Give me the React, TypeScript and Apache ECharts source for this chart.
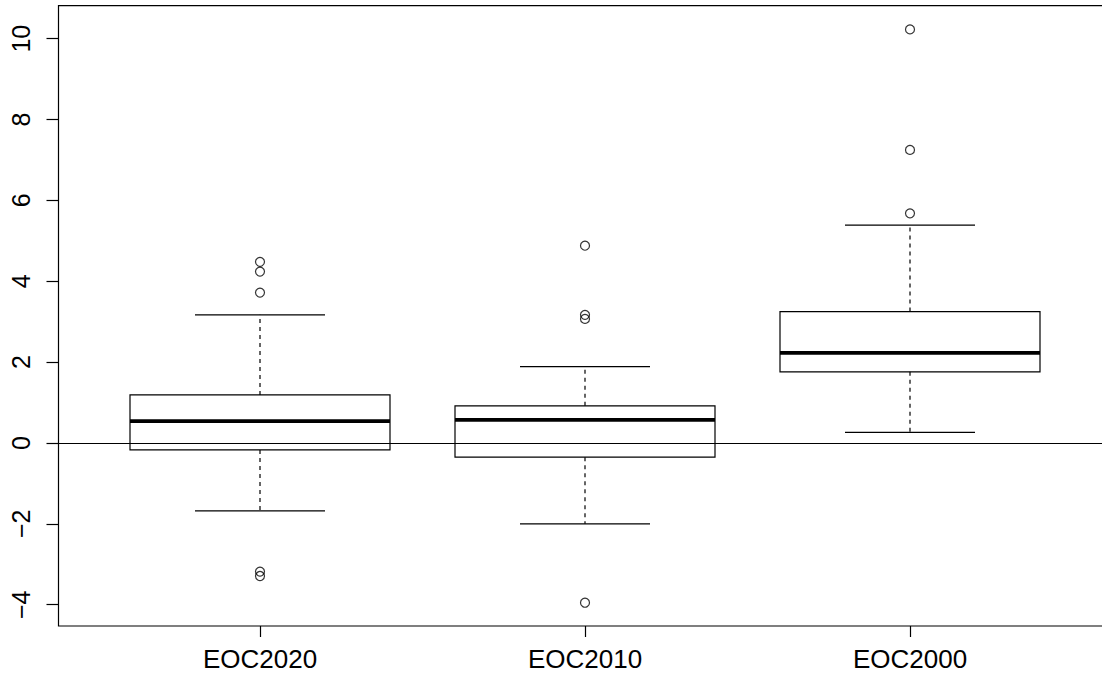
import React, { useEffect, useRef } from "react";
import * as echarts from "echarts";

// ---- data ----
const categories = ["EOC2020", "EOC2010", "EOC2000"];
const positions = [1, 2, 3];
const lowerWhisker = [-1.68, -2.0, 0.265];
const lowerQuartile = [-0.17, -0.35, 1.76];
const medians = [0.54, 0.57, 2.23];
const upperQuartile = [1.19, 0.92, 3.25];
const upperWhisker = [3.17, 1.89, 5.39];
const outliersEOC2020 = [4.48, 4.24, 3.72, -3.18, -3.29];
const outliersEOC2010 = [4.88, 3.17, 3.07, -3.95];
const outliersEOC2000 = [10.23, 7.25, 5.68];
const yTicks = [-4, -2, 0, 2, 4, 6, 8, 10];
const xRange = [0.38, 3.62];
const yRange = [-4.526, 10.816];

const outlierGroups = [outliersEOC2020, outliersEOC2010, outliersEOC2000];

const BOX_WIDTH = 0.8;
const CAP_WIDTH = 0.4;
const FONT = "'Liberation Sans', Arial, Helvetica, sans-serif";

export default function App() {
  const ref = useRef<HTMLDivElement>(null);

  useEffect(() => {
    if (!ref.current) return;
    const chart = echarts.init(ref.current, null, { renderer: "svg" });

    const boxData = positions.map((p, i) => [
      p,
      lowerWhisker[i],
      lowerQuartile[i],
      medians[i],
      upperQuartile[i],
      upperWhisker[i],
    ]);
    const outlierData: number[][] = [];
    outlierGroups.forEach((g, i) => g.forEach((v) => outlierData.push([positions[i], v])));

    const black = "#000";
    const lw = 1.2;

    chart.setOption({
      animation: false,
      backgroundColor: "#fff",
      grid: {
        left: 58.5,
        top: 5.7,
        right: -9.5,
        bottom: 53,
        show: true,
        borderColor: black,
        borderWidth: lw,
        backgroundColor: "transparent",
        containLabel: false,
        outerBoundsMode: "none",
      },
      xAxis: {
        type: "value",
        min: xRange[0],
        max: xRange[1],
        axisLine: { show: false, onZero: false },
        splitLine: { show: false },
        axisTick: {
          show: true,
          length: 11,
          customValues: positions,
          lineStyle: { color: black, width: lw },
        },
        axisLabel: {
          show: true,
          customValues: positions,
          formatter: (v: number) => categories[positions.indexOf(Math.round(v))] ?? "",
          margin: 20,
          fontSize: 26,
          fontFamily: FONT,
          color: black,
        },
      },
      yAxis: {
        type: "value",
        min: yRange[0],
        max: yRange[1],
        axisLine: { show: false, onZero: false },
        splitLine: { show: false },
        axisTick: {
          show: true,
          length: 12,
          customValues: yTicks,
          lineStyle: { color: black, width: lw },
        },
        axisLabel: {
          show: true,
          customValues: yTicks,
          rotate: 90,
          margin: 25,
          fontSize: 25,
          fontFamily: FONT,
          color: black,
          formatter: (v: number) => (v < 0 ? "\u2212" + Math.abs(v) : String(v)),
        },
      },
      series: [
        {
          type: "custom",
          coordinateSystem: "cartesian2d",
          silent: true,
          encode: { x: 0, y: [1, 2, 3, 4, 5] },
          data: boxData,
          renderItem: (params: any, api: any) => {
            const x = api.value(0);
            const lo = api.coord([x, api.value(1)]);
            const q1 = api.coord([x, api.value(2)]);
            const md = api.coord([x, api.value(3)]);
            const q3 = api.coord([x, api.value(4)]);
            const hi = api.coord([x, api.value(5)]);
            const bh = api.size([BOX_WIDTH, 0])[0] / 2;
            const ch = api.size([CAP_WIDTH, 0])[0] / 2;
            const cx = lo[0];
            const solid = { stroke: black, lineWidth: lw, fill: null };
            const dashed = { stroke: black, lineWidth: lw, lineDash: [4, 4], fill: null };
            return {
              type: "group",
              children: [
                { type: "line", shape: { x1: cx, y1: q3[1], x2: cx, y2: hi[1] }, style: dashed },
                { type: "line", shape: { x1: cx, y1: q1[1], x2: cx, y2: lo[1] }, style: dashed },
                { type: "line", shape: { x1: cx - ch, y1: hi[1], x2: cx + ch, y2: hi[1] }, style: solid },
                { type: "line", shape: { x1: cx - ch, y1: lo[1], x2: cx + ch, y2: lo[1] }, style: solid },
                {
                  type: "rect",
                  shape: { x: cx - bh, y: q3[1], width: 2 * bh, height: q1[1] - q3[1] },
                  style: { stroke: black, lineWidth: lw, fill: "transparent" },
                },
                {
                  type: "line",
                  shape: { x1: cx - bh, y1: md[1], x2: cx + bh, y2: md[1] },
                  style: { stroke: black, lineWidth: 3.8, fill: null },
                },
              ],
            };
          },
        },
        {
          type: "scatter",
          silent: true,
          data: outlierData,
          symbol: "circle",
          symbolSize: 9,
          itemStyle: { color: "transparent", borderColor: black, borderWidth: 1.2 },
          markLine: {
            silent: true,
            symbol: ["none", "none"],
            label: { show: false },
            lineStyle: { color: black, width: 1.2, type: "solid" },
            emphasis: { disabled: true },
            data: [{ yAxis: 0 }],
          },
        },
      ],
    });

    return () => chart.dispose();
  }, []);

  return (
    <div
      ref={ref}
      style={{ position: "fixed", left: 0, top: 0, width: 1102, height: 679, background: "#fff" }}
    />
  );
}
